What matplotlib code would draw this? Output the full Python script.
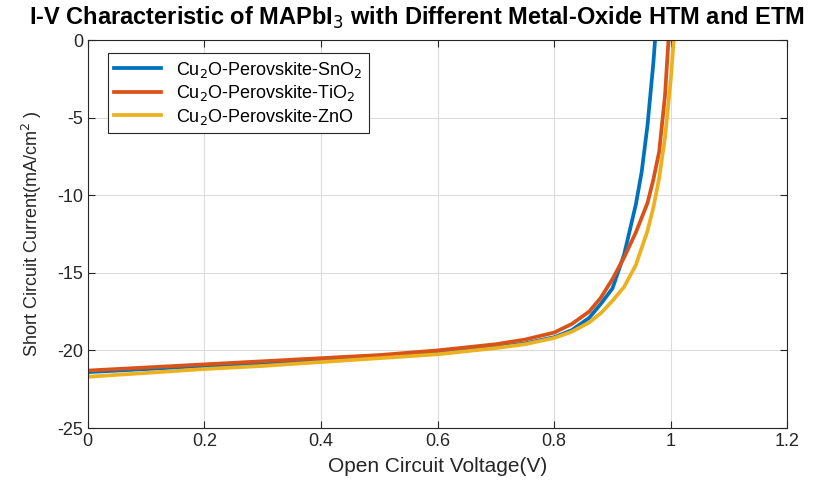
import matplotlib.pyplot as plt

plt.rcParams['font.family'] = ['Liberation Sans', 'DejaVu Sans']
plt.rcParams['axes.unicode_minus'] = False

# Cu2O-Perovskite-SnO2
v_sno2 = [0, 0.1, 0.2, 0.3, 0.4, 0.5, 0.6, 0.7, 0.75, 0.8, 0.83, 0.86, 0.88, 0.9, 0.92, 0.94, 0.95, 0.96, 0.97, 0.973]
j_sno2 = [-21.4, -21.2, -21.0, -20.8, -20.6, -20.4, -20.15, -19.8, -19.55, -19.15, -18.7, -17.9, -17.0, -16.0, -13.8, -10.6, -8.5, -5.5, -1.5, 0]

# Cu2O-Perovskite-TiO2
v_tio2 = [0, 0.1, 0.2, 0.3, 0.4, 0.5, 0.6, 0.7, 0.75, 0.8, 0.83, 0.86, 0.88, 0.9, 0.92, 0.94, 0.96, 0.97, 0.98, 0.99, 0.996]
j_tio2 = [-21.3, -21.1, -20.9, -20.7, -20.5, -20.3, -20.0, -19.6, -19.3, -18.85, -18.3, -17.5, -16.6, -15.4, -14.0, -12.4, -10.5, -9.0, -7.2, -3.6, 0]

# Cu2O-Perovskite-ZnO
v_zno = [0, 0.1, 0.2, 0.3, 0.4, 0.5, 0.6, 0.7, 0.75, 0.8, 0.83, 0.86, 0.88, 0.9, 0.92, 0.94, 0.96, 0.97, 0.98, 0.99, 1.0, 1.005]
j_zno = [-21.7, -21.45, -21.2, -21.0, -20.75, -20.5, -20.25, -19.85, -19.6, -19.2, -18.8, -18.2, -17.6, -16.8, -15.9, -14.5, -12.3, -10.8, -8.9, -6.3, -2.5, 0]

fig = plt.figure(figsize=(8.28, 4.82), dpi=100)
ax = fig.add_axes([0.106, 0.112, 0.845, 0.805])

ax.plot(v_sno2, j_sno2, color='#0072BD', lw=2.7, label='Cu$_2$O-Perovskite-SnO$_2$')
ax.plot(v_tio2, j_tio2, color='#D95319', lw=2.7, label='Cu$_2$O-Perovskite-TiO$_2$')
ax.plot(v_zno, j_zno, color='#EDB120', lw=2.7, label='Cu$_2$O-Perovskite-ZnO')

ax.set_xlim(0, 1.2)
ax.set_ylim(-25, 0)
ax.set_xticks([0, 0.2, 0.4, 0.6, 0.8, 1, 1.2])
ax.set_xticklabels(['0', '0.2', '0.4', '0.6', '0.8', '1', '1.2'])
ax.set_yticks([-25, -20, -15, -10, -5, 0])
ax.grid(True, color='#dcdcdc', lw=0.8)
ax.tick_params(direction='in', top=True, right=True, labelsize=13, colors='#262626', length=5)
for s in ax.spines.values():
    s.set_color('#262626')

ax.set_xlabel('Open Circuit Voltage(V)', fontsize=15, color='#262626', labelpad=5)
ax.set_ylabel('Short Circuit Current(mA/cm$^2$ )', fontsize=13, color='#262626', labelpad=9)
fig.text(0.504, 0.963, 'I-V Characteristic of MAPbI$_3$ with Different Metal-Oxide HTM and ETM',
         ha='center', va='center', fontsize=17, fontweight='bold')

leg = ax.legend(loc='upper left', bbox_to_anchor=(0.029, 0.966), borderaxespad=0, fontsize=13,
                fancybox=False, framealpha=1, edgecolor='#262626',
                handlelength=2.6, labelspacing=0.2, borderpad=0.35)
leg.get_frame().set_linewidth(0.8)

fig.savefig('out.png', dpi=100)
